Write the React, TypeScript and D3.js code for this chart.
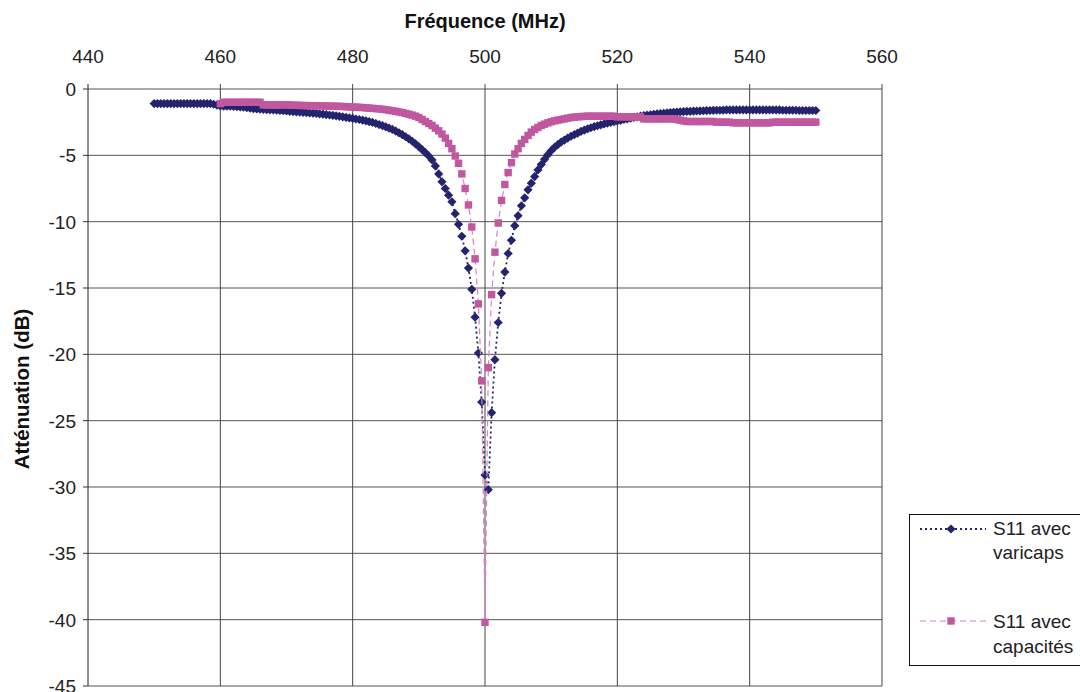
import React from "react";
import * as d3 from "d3";

// Frequency axis (MHz) and attenuation axis (dB)
const xTicks = [440, 460, 480, 500, 520, 540, 560];
const yTicks = [0, -5, -10, -15, -20, -25, -30, -35, -40, -45];

// Series 1 : S11 avec varicaps — 450 → 550 MHz, 0.5 MHz steps
const varicapsStart = 450;
const varicapsStep = 0.5;
const varicapsDb = [
  -1.1, -1.1, -1.1, -1.1, -1.1, -1.1, -1.1, -1.1, -1.1, -1.1,
  -1.1, -1.1, -1.1, -1.1, -1.1, -1.1, -1.1, -1.1, -1.15, -1.22,
  -1.28, -1.3, -1.3, -1.3, -1.32, -1.33, -1.35, -1.37, -1.4, -1.45,
  -1.48, -1.5, -1.52, -1.53, -1.55, -1.57, -1.58, -1.6, -1.62, -1.64,
  -1.66, -1.68, -1.7, -1.72, -1.74, -1.76, -1.78, -1.8, -1.82, -1.84,
  -1.87, -1.9, -1.93, -1.96, -1.99, -2.02, -2.06, -2.1, -2.14, -2.18,
  -2.22, -2.26, -2.3, -2.35, -2.4, -2.46, -2.52, -2.6, -2.68, -2.76,
  -2.85, -2.95, -3.05, -3.17, -3.3, -3.44, -3.6, -3.76, -3.94, -4.14,
  -4.35, -4.57, -4.8, -5.05, -5.35, -5.8, -6.4, -7.0, -7.5, -8.0,
  -8.5, -9.4, -10.2, -11.1, -12.2, -13.5, -15.1, -17.2, -19.9, -23.6,
  -29.1, -30.2, -24.4, -20.4, -17.6, -15.4, -13.8, -12.4, -11.4, -10.3,
  -9.55, -8.8, -8.2, -7.6, -7.1, -6.6, -6.1, -5.7, -5.3, -4.95,
  -4.65, -4.4, -4.2, -4.0, -3.85, -3.7, -3.56, -3.44, -3.32, -3.2,
  -3.1, -3.0, -2.92, -2.84, -2.77, -2.7, -2.63, -2.57, -2.51, -2.46,
  -2.41, -2.36, -2.3, -2.25, -2.2, -2.15, -2.1, -2.05, -2.0, -1.97,
  -1.94, -1.91, -1.88, -1.85, -1.83, -1.8, -1.78, -1.76, -1.74, -1.72,
  -1.7, -1.69, -1.68, -1.67, -1.66, -1.65, -1.64, -1.63, -1.62, -1.61,
  -1.6, -1.6, -1.59, -1.58, -1.58, -1.58, -1.58, -1.58, -1.58, -1.58,
  -1.58, -1.58, -1.58, -1.58, -1.58, -1.58, -1.58, -1.58, -1.58, -1.58,
  -1.6, -1.6, -1.6, -1.6, -1.6, -1.62, -1.62, -1.62, -1.62, -1.62,
  -1.62,
];

// Series 2 : S11 avec capacités — 460 → 550 MHz, 0.5 MHz steps
const capaStart = 460;
const capaStep = 0.5;
const capaDb = [
  -1.1, -1.0, -1.0, -1.0, -1.0, -1.0, -1.0, -1.0, -1.0, -1.0,
  -1.0, -1.0, -1.0, -1.2, -1.2, -1.2, -1.2, -1.2, -1.2, -1.2,
  -1.2, -1.2, -1.22, -1.22, -1.24, -1.24, -1.25, -1.25, -1.26, -1.27,
  -1.27, -1.28, -1.28, -1.29, -1.3, -1.3, -1.31, -1.32, -1.33, -1.35,
  -1.36, -1.37, -1.38, -1.4, -1.42, -1.44, -1.46, -1.48, -1.5, -1.53,
  -1.56, -1.6, -1.64, -1.68, -1.73, -1.78, -1.84, -1.9, -1.97, -2.05,
  -2.15, -2.3, -2.45, -2.6, -2.75, -2.95, -3.15, -3.4, -3.7, -4.1,
  -4.5, -5.05, -5.6, -6.4, -7.5, -8.74, -10.4, -12.8, -16.2, -22.0,
  -40.2, -21.0, -15.5, -12.3, -10.1, -8.4, -7.2, -6.3, -5.55, -4.9,
  -4.5, -4.1, -3.8, -3.5, -3.25, -3.05, -2.9, -2.75, -2.65, -2.55,
  -2.47, -2.4, -2.35, -2.3, -2.25, -2.2, -2.15, -2.12, -2.1, -2.08,
  -2.06, -2.05, -2.05, -2.05, -2.05, -2.05, -2.05, -2.05, -2.05, -2.05,
  -2.1, -2.1, -2.1, -2.1, -2.1, -2.1, -2.1, -2.1, -2.25, -2.25,
  -2.25, -2.25, -2.25, -2.25, -2.25, -2.25, -2.25, -2.25, -2.3, -2.35,
  -2.4, -2.45, -2.45, -2.45, -2.45, -2.45, -2.45, -2.45, -2.45, -2.45,
  -2.5, -2.5, -2.5, -2.5, -2.5, -2.55, -2.55, -2.55, -2.55, -2.55,
  -2.55, -2.55, -2.55, -2.55, -2.55, -2.55, -2.55, -2.5, -2.5, -2.5,
  -2.5, -2.5, -2.5, -2.5, -2.5, -2.5, -2.5, -2.5, -2.5, -2.5,
  -2.5,
];

const xTitle = "Fréquence (MHz)";
const yTitle = "Atténuation (dB)";
const legendVaricaps = ["S11 avec", "varicaps"];
const legendCapa = ["S11 avec", "capacités", "céramiques"];

const BLUE = "#24246e";
const PINK = "#c0579f";
const PINK_LINE = "#d982c4";
const FONT = "'Liberation Sans', Arial, sans-serif";

type Pt = { f: number; v: number };

export default function App() {
  const x = d3.scaleLinear().domain([440, 560]).range([88, 882]);
  const y = d3.scaleLinear().domain([-45, 0]).range([686, 89]);

  const varicaps: Pt[] = varicapsDb.map((v, i) => ({ f: varicapsStart + i * varicapsStep, v }));
  const capa: Pt[] = capaDb.map((v, i) => ({ f: capaStart + i * capaStep, v }));

  const line = d3
    .line<Pt>()
    .x((d) => x(d.f))
    .y((d) => y(d.v));

  const diamond = (cx: number, cy: number, r = 4.6) =>
    `M${cx},${cy - r}L${cx + r},${cy}L${cx},${cy + r}L${cx - r},${cy}Z`;
  const sq = 7.4;

  return (
    <svg
      width={1080}
      height={692}
      style={{ position: "absolute", left: 0, top: 0, background: "#fff" }}
      fontFamily={FONT}
    >
      <rect x={0} y={0} width={1080} height={692} fill="#fff" />
      <defs>
        <clipPath id="legendClip">
          <rect x={909} y={514} width={200} height={152} />
        </clipPath>
      </defs>

      {/* horizontal grid */}
      {yTicks.map((t) => (
        <line
          key={"h" + t}
          x1={88}
          x2={882}
          y1={y(t)}
          y2={y(t)}
          stroke={t === -45 ? "#a8a8a8" : "#555"}
          strokeWidth={t === -45 ? 2 : 1}
        />
      ))}
      {/* vertical grid */}
      {xTicks.map((t) => (
        <line
          key={"v" + t}
          x1={x(t)}
          x2={x(t)}
          y1={84}
          y2={686}
          stroke={t === 440 ? "#222" : "#444"}
          strokeWidth={1}
        />
      ))}
      {/* left ticks */}
      {yTicks.map((t) => (
        <line key={"lt" + t} x1={83} x2={88} y1={y(t)} y2={y(t)} stroke="#333" strokeWidth={1} />
      ))}

      {/* tick labels */}
      {xTicks.map((t) => (
        <text key={"xl" + t} x={x(t)} y={63} textAnchor="middle" fontSize={19} fill="#222">
          {t}
        </text>
      ))}
      {yTicks.map((t) => (
        <text key={"yl" + t} x={76} y={y(t) + 7} textAnchor="end" fontSize={19} fill="#222">
          {t}
        </text>
      ))}

      {/* axis titles */}
      <text x={485} y={28} textAnchor="middle" fontSize={20} fontWeight="bold" fill="#111">
        {xTitle}
      </text>
      <text
        transform="translate(29,389) rotate(-90)"
        textAnchor="middle"
        fontSize={20.5}
        fontWeight="bold"
        fill="#111"
      >
        {yTitle}
      </text>

      {/* series 1 : varicaps */}
      <path d={line(varicaps) || ""} fill="none" stroke={BLUE} strokeWidth={1.8} strokeDasharray="2 3" />
      {varicaps.map((d, i) => (
        <path key={"vd" + i} d={diamond(x(d.f), y(d.v))} fill={BLUE} />
      ))}

      {/* series 2 : capacités */}
      <path d={line(capa) || ""} fill="none" stroke={PINK_LINE} strokeWidth={1.2} strokeDasharray="6 4" />
      {capa.map((d, i) => (
        <rect key={"cs" + i} x={x(d.f) - sq / 2} y={y(d.v) - sq / 2} width={sq} height={sq} fill={PINK} />
      ))}

      {/* legend */}
      <rect x={909.5} y={514.5} width={200} height={151} fill="#fff" stroke="#111" strokeWidth={1} />
      <g clipPath="url(#legendClip)">
        <line x1={920} x2={986} y1={529} y2={529} stroke={BLUE} strokeWidth={1.8} strokeDasharray="2 3" />
        <path d={diamond(951, 529)} fill={BLUE} />
        {legendVaricaps.map((s, i) => (
          <text key={"lv" + i} x={993} y={535 + i * 24} fontSize={19} fill="#222">
            {s}
          </text>
        ))}
        <line x1={920} x2={986} y1={621} y2={621} stroke={PINK_LINE} strokeWidth={1.2} strokeDasharray="6 4" />
        <rect x={951 - sq / 2} y={621 - sq / 2} width={sq} height={sq} fill={PINK} />
        {legendCapa.map((s, i) => (
          <text key={"lc" + i} x={993} y={628 + i * 25} fontSize={19} fill="#222">
            {s}
          </text>
        ))}
      </g>
    </svg>
  );
}
